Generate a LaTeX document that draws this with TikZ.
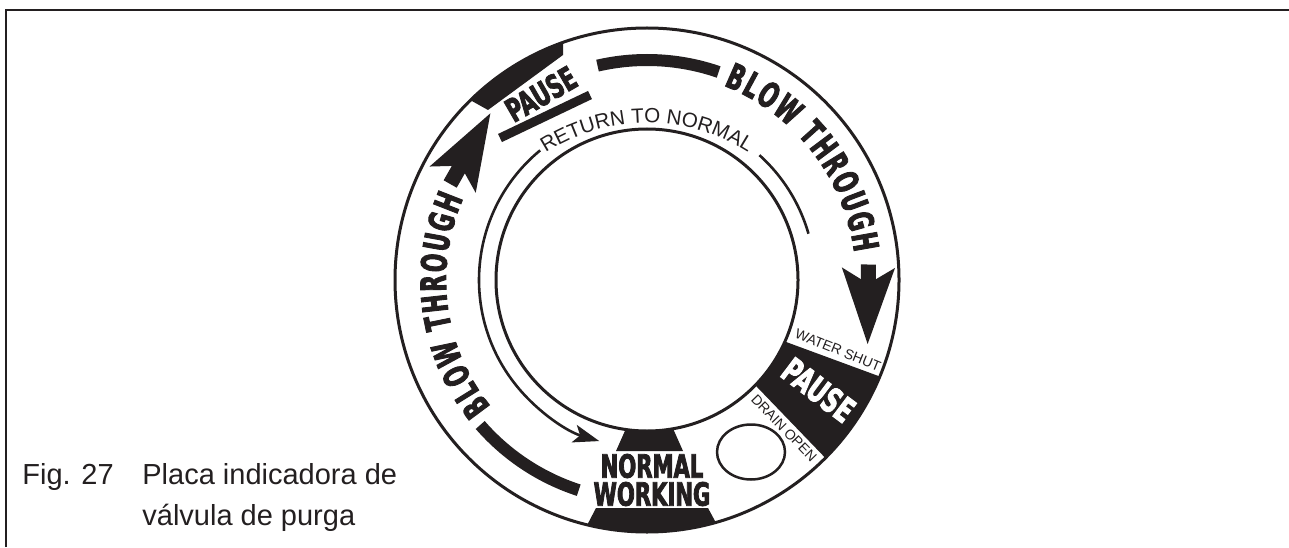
\documentclass[tikz,border=0pt]{standalone}
\usepackage{fontspec}
\setmainfont{Liberation Sans}
\newfontfamily\heavyfont{DejaVu Sans}[FakeStretch=0.66, FakeBold=2.5]
\newfontfamily\ringfont{DejaVu Sans}[FakeStretch=0.62, FakeBold=2.5]
\usetikzlibrary{arrows.meta, positioning, decorations.text, calc}
\definecolor{ink}{HTML}{231F20}

\begin{document}
\begin{tikzpicture}[
  x=0.5pt, y=0.5pt,
  rim/.style={draw=ink, line width=1.5pt},
  band/.style={fill=ink},
  thickarc/.style={draw=ink, line width=6pt},
  bigarr/.style={draw=ink, line width=7.5pt, -{Stealth[length=37.5pt, width=25pt, inset=7pt]}},
  retarr/.style={draw=ink, line width=1.3pt},
  heavy/.style={font=\heavyfont\bfseries\fontsize{#1}{14}\selectfont, text=ink, inner sep=0pt},
  heavy/.default=16,
  tinylabel/.style={font=\fontsize{7}{8}\selectfont, text=ink, inner sep=0pt},
  figcap/.style={font=\fontsize{14.5}{17}\selectfont, text=ink, inner sep=0pt, anchor=base west}
]
\useasboundingbox (0,0) rectangle (1289,547);
\coordinate (c) at (647,267);
\coordinate (tc) at (647,237);

% frame
\coordinate (fbl) at (6,0);
\coordinate (ftl) at (6,537);
\coordinate (ftr) at (1289,537);
\draw[ink, line width=1.1pt] (fbl) -- (ftl) -- (ftr);

% black fields inside the plate
\begin{scope}
  \clip (c) circle[radius=252];
  \fill[band] (445,461) -- (488,437) -- (563,492) -- (563,560) -- (440,560) -- cycle;
  \fill[band] (740,222) -- (930,152) -- (861,52) -- (731,187) -- cycle;
  \fill[band] (632,132) -- (667,132) -- (683,96) -- (616,96) -- cycle;
  \fill[band] (596,39) -- (708,39) -- (736,-13) -- (569,-13) -- cycle;
\end{scope}
\draw[rim, fill=white] (c) circle[radius=151];
\draw[rim] (c) circle[radius=252];

% thick arcs and big arrows
\draw[thickarc] ($(c)+(103:220)$) arc[start angle=103, end angle=71, radius=220];
\draw[thickarc] ($(c)+(221:221)$) arc[start angle=221, end angle=252, radius=221];
\coordinate (ra0) at ($(c)+(4:222)$);
\coordinate (ra1) at ($(c)+(-16.4:230)$);
\coordinate (la0) at ($(c)+(154:219)$);
\coordinate (la1) at ($(c)+(133:229)$);
\draw[bigarr] (ra0) -- (ra1);
\draw[bigarr] (la0) -- (la1);

% return to normal
\draw[retarr] ($(c)+(48:168)$) arc[start angle=48, end angle=16, radius=168];
\draw[retarr, -{Stealth[length=13pt, width=9pt, inset=3pt]}] ($(c)+(129.5:168)$) arc[start angle=129.5, end angle=253.5, radius=168];
\path[decorate, decoration={text along path, text color=ink, text align=center,
  text={|\fontsize{10.3}{12}\selectfont|RETURN TO NORMAL}}]
  ($(tc)+(125:187)$) arc[start angle=125, end angle=55, radius=187];

% ring texts
\path[decorate, decoration={text along path, text color=ink, text align={fit to path},
  text={|\ringfont\bfseries\fontsize{17.5}{16}\selectfont|BLOW THROUGH}}]
  ($(c)+(68.5:209)$) arc[start angle=68.5, end angle=7.5, radius=209];
\path[decorate, decoration={text along path, text color=ink, text align={fit to path},
  text={|\ringfont\bfseries\fontsize{17.5}{16}\selectfont|BLOW THROUGH}}]
  ($(c)+(219:201)$) arc[start angle=219, end angle=156, radius=201];

\node[heavy=16, rotate=30] (pause1) at (541,453) {PAUSE};
\draw[ink, line width=4.5pt] (500,409) -- (590,452);
\node[heavy=17, rotate=-37, text=white] (pause2) at (818.5,157) {PAUSE};
\node[heavy, align=center] (normal) at (652,67) {NORMAL\\WORKING};
\node[tinylabel, rotate=-22] (water) at (838,197) {WATER SHUT};
\node[tinylabel, rotate=-46] (drain) at (784,119) {DRAIN OPEN};
\draw[ink, line width=1.25pt] (751,95) ellipse[x radius=34, y radius=27.5];

% caption
\node[figcap] (fignum) at (22,63) {Fig. 27};
\node[figcap] (capa) at (142,63) {Placa indicadora de};
\node[figcap] (capb) at ([yshift=-20.5pt]capa.base west) {válvula de purga};
\end{tikzpicture}
\end{document}
